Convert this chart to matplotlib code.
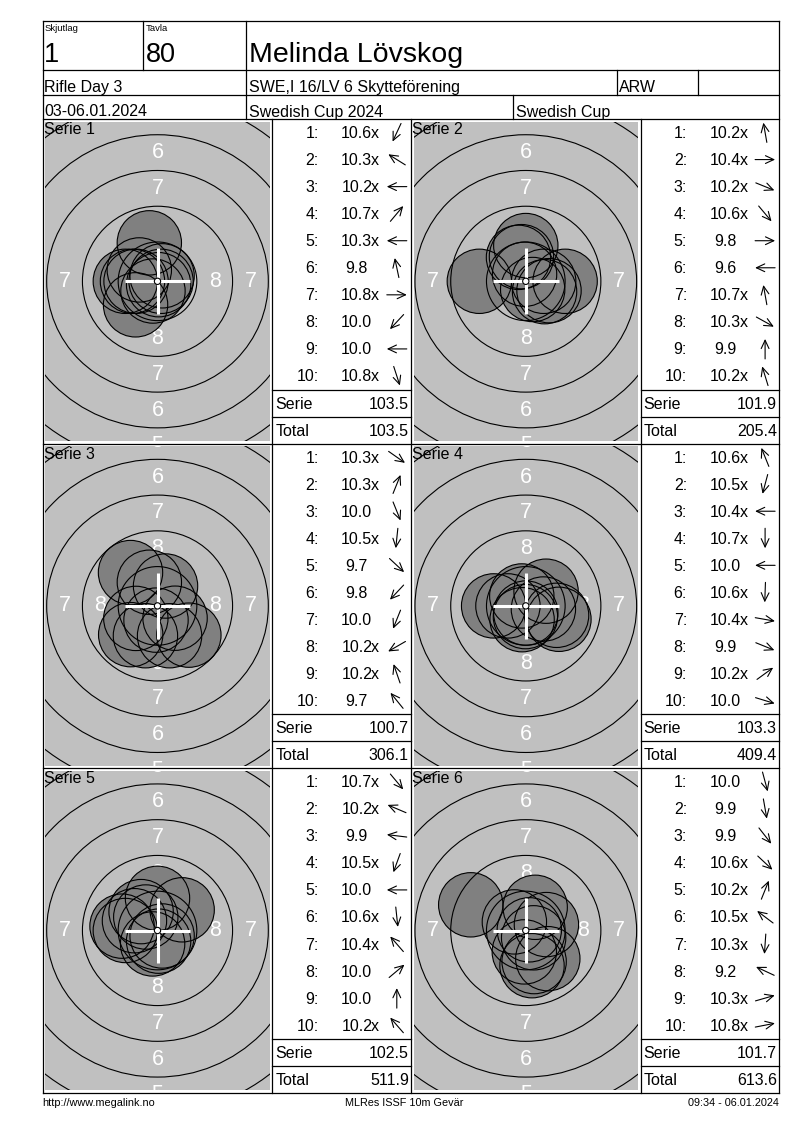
import numpy as np
import matplotlib.pyplot as plt
from matplotlib.patches import Circle

plt.rcParams['font.family'] = ['Liberation Sans', 'DejaVu Sans']

#%% Data
relay = "1"
target_no = "80"
shooter = "Melinda Lövskog"
event = "Rifle Day 3"
club = "SWE,I 16/LV 6 Skytteförening"
shooter_class = "ARW"
dates = "03-06.01.2024"
competition = "Swedish Cup 2024"
cup = "Swedish Cup"
footer_left = "http://www.megalink.no"
footer_mid = "MLRes ISSF 10m Gevär"
footer_right = "09:34 - 06.01.2024"

series_names = ["Serie 1", "Serie 2", "Serie 3", "Serie 4", "Serie 5", "Serie 6"]
shots = [
    ["10.6x", "10.3x", "10.2x", "10.7x", "10.3x", "9.8", "10.8x", "10.0", "10.0", "10.8x"],
    ["10.2x", "10.4x", "10.2x", "10.6x", "9.8", "9.6", "10.7x", "10.3x", "9.9", "10.2x"],
    ["10.3x", "10.3x", "10.0", "10.5x", "9.7", "9.8", "10.0", "10.2x", "10.2x", "9.7"],
    ["10.6x", "10.5x", "10.4x", "10.7x", "10.0", "10.6x", "10.4x", "9.9", "10.2x", "10.0"],
    ["10.7x", "10.2x", "9.9", "10.5x", "10.0", "10.6x", "10.4x", "10.0", "10.0", "10.2x"],
    ["10.0", "9.9", "9.9", "10.6x", "10.2x", "10.5x", "10.3x", "9.2", "10.3x", "10.8x"],
]
# shot direction from centre, degrees (0 = right, 90 = up)
directions = [
    [245, 148, 180, 50, 180, 102, 0, 227, 180, 288],
    [100, 0, 338, 310, 0, 180, 100, 331, 90, 107],
    [325, 68, 292, 264, 317, 227, 248, 210, 109, 129],
    [112, 255, 180, 270, 180, 268, 350, 338, 36, 343],
    [310, 157, 173, 250, 180, 276, 131, 40, 90, 131],
    [285, 280, 308, 317, 68, 143, 266, 155, 16, 11],
]

#%% Layout (pixels)
W, H = 800, 1130
PX_MM = 14.3
X0, X1 = 42.7, 779.3
HDR = [20.5, 70.0, 95.0, 119.0]
PANEL_H = 324.6
COL_W = 368.3
TGT_W = 229.6
TAB_W = COL_W - TGT_W
ROW_H = PANEL_H / 12
FS = 11.5
LW = 0.9

ring_radii = [2.75, 5.25, 7.75, 10.25, 12.75, 15.25]
ring_labels = [("8", 4.0), ("7", 6.5), ("6", 9.0), ("5", 11.5)]

fig = plt.figure(figsize=(8, 11.3), dpi=100)

#%% Targets
for k in range(6):
    r, c = divmod(k, 2)
    bx = X0 + c * COL_W
    by = HDR[-1] + r * PANEL_H
    gx, gy = bx + 2.5, by + 2.5
    gw, gh = TGT_W - 5, PANEL_H - 5
    ax = fig.add_axes([gx / W, 1 - (gy + gh) / H, gw / W, gh / H])
    hx, hy = gw / 2 / PX_MM, gh / 2 / PX_MM
    ax.set_xlim(-hx, hx)
    ax.set_ylim(-hy, hy)
    ax.set_facecolor("#c0c0c0")
    ax.set_xticks([])
    ax.set_yticks([])
    for s in ax.spines.values():
        s.set_visible(False)

    # ring numbers, only where at least part of them shows
    for lab, rl in ring_labels:
        for ux, uy in [(0, 1), (0, -1), (1, 0), (-1, 0)]:
            if abs(ux) * (rl - 0.6) > hx or abs(uy) * (rl - 0.6) > hy:
                continue
            ax.text(ux * rl, uy * rl, lab, ha="center", va="center",
                    color="white", fontsize=15.5, zorder=2, clip_on=True)

    vals = np.array([float(v.rstrip("x")) for v in shots[k]])
    ang = np.radians(directions[k])
    dist = (10.9 - vals) * 2.5
    xs, ys = dist * np.cos(ang), dist * np.sin(ang)
    for x, y in zip(xs, ys):
        ax.add_patch(Circle((x, y), 2.25, fc="#808080", ec="none", zorder=3))
    for x, y in zip(xs, ys):
        ax.add_patch(Circle((x, y), 2.25, fill=False, ec="black", lw=0.8, zorder=4))
    for rr in ring_radii:
        ax.add_patch(Circle((0, 0), rr, fill=False, ec="black", lw=0.8, zorder=4))

    ax.plot([-2.3, 2.3], [0, 0], color="white", lw=2.2, solid_capstyle="butt", zorder=5)
    ax.plot([0, 0], [-2.3, 2.3], color="white", lw=2.2, solid_capstyle="butt", zorder=5)
    ax.add_patch(Circle((0, 0), 0.22, fc="white", ec="black", lw=0.8, zorder=6))

#%% Overlay: frame, header, tables
ov = fig.add_axes([0, 0, 1, 1], zorder=10)
ov.set_xlim(0, W)
ov.set_ylim(H, 0)
ov.axis("off")
ov.patch.set_visible(False)

def hl(y, xa, xb):
    ov.plot([xa, xb], [y, y], color="black", lw=LW, solid_capstyle="projecting")

def vl(x, ya, yb):
    ov.plot([x, x], [ya, yb], color="black", lw=LW, solid_capstyle="projecting")

bottom = HDR[-1] + 3 * PANEL_H
for y in HDR:
    hl(y, X0, X1)
for r in range(1, 4):
    hl(HDR[-1] + r * PANEL_H, X0, X1)
vl(X0, HDR[0], bottom)
vl(X1, HDR[0], bottom)
vl(143.3, HDR[0], HDR[1])
vl(245.7, HDR[0], HDR[3])
vl(616.7, HDR[1], HDR[2])
vl(698.3, HDR[1], HDR[2])
vl(513.3, HDR[2], HDR[3])
for c in range(2):
    bx = X0 + c * COL_W
    vl(bx + TGT_W, HDR[-1], bottom)
vl(X0 + COL_W, HDR[-1], bottom)

ov.text(45, 31, "Skjutlag", fontsize=6.8, va="baseline")
ov.text(146, 31, "Tavla", fontsize=6.8, va="baseline")
ov.text(44, 61.7, relay, fontsize=19.5, va="baseline")
ov.text(146, 61.7, target_no, fontsize=19.5, va="baseline")
ov.text(249, 61.7, shooter, fontsize=20.5, va="baseline")
ov.text(44, 92.3, event, fontsize=11.5, va="baseline")
ov.text(249, 92.3, club, fontsize=11.5, va="baseline")
ov.text(618.5, 92.3, shooter_class, fontsize=11.5, va="baseline")
ov.text(44, 116.5, dates, fontsize=11.5, va="baseline")
ov.text(249, 116.5, competition, fontsize=11.5, va="baseline")
ov.text(516, 116.5, cup, fontsize=11.5, va="baseline")

total = 0.0
for k in range(6):
    r, c = divmod(k, 2)
    bx = X0 + c * COL_W
    by = HDR[-1] + r * PANEL_H
    tx = bx + TGT_W
    ov.text(bx + 1, by + 15, series_names[k], fontsize=11.5, va="baseline")
    hl(by + 10 * ROW_H, tx, tx + TAB_W)
    hl(by + 11 * ROW_H, tx, tx + TAB_W)
    vals = [float(v.rstrip("x")) for v in shots[k]]
    for i, lab in enumerate(shots[k]):
        yc = by + (i + 0.5) * ROW_H
        ov.text(tx + 46.5, yc + 5.5, f"{i + 1}:", ha="right", va="baseline", fontsize=FS)
        ov.text(tx + 84.5, yc + 5.5, lab.rstrip("x"), ha="center", va="baseline", fontsize=FS)
        if lab.endswith("x"):
            ov.text(tx + 99, yc + 5.5, "x", ha="left", va="baseline", fontsize=FS)
        a = np.radians(directions[k][i])
        cx = tx + 124.5
        dx, dy = 10 * np.cos(a), -10 * np.sin(a)
        ov.annotate("", xy=(cx + dx, yc + dy), xytext=(cx - dx, yc - dy),
                    arrowprops=dict(arrowstyle="->,head_length=0.6,head_width=0.28",
                                    lw=0.8, color="black", shrinkA=0, shrinkB=0))
    serie = sum(vals)
    total += serie
    ys = by + 10.5 * ROW_H + 5.5
    yt = by + 11.5 * ROW_H + 5.5
    ov.text(tx + 3, ys, "Serie", va="baseline", fontsize=FS)
    ov.text(tx + 136.5, ys, f"{serie:.1f}", ha="right", va="baseline", fontsize=FS)
    ov.text(tx + 3, yt, "Total", va="baseline", fontsize=FS)
    ov.text(tx + 136.5, yt, f"{total:.1f}", ha="right", va="baseline", fontsize=FS)

ov.text(42, 1105.5, footer_left, fontsize=7.8, va="baseline")
ov.text(404, 1105.5, footer_mid, fontsize=7.8, va="baseline", ha="center")
ov.text(779, 1105.5, footer_right, fontsize=7.8, va="baseline", ha="right")

fig.savefig("out.png", dpi=100)
